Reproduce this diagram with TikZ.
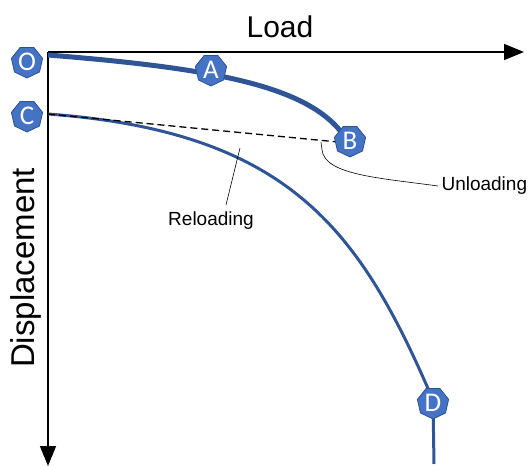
\documentclass[tikz,border=0pt]{standalone}
\usepackage{fontspec}
\setmainfont{Liberation Sans}
\newfontfamily\markfont{Carlito}
\usetikzlibrary{shapes.geometric,arrows.meta}
\definecolor{markfill}{HTML}{4472C4}
\definecolor{markline}{HTML}{2F528F}
\definecolor{curve}{HTML}{2F5597}
\tikzset{
  pt/.style={regular polygon, regular polygon sides=7, shape border rotate=180,
    minimum size=32pt, inner sep=0pt, fill=markfill, draw=markline, line width=0.8pt,
    text=white, font=\markfont\fontsize{27}{27}\selectfont},
  axis/.style={line width=1.6pt, -{Triangle[length=20pt,width=16pt]}},
  lbl/.style={font=\fontsize{19}{19}\selectfont},
  leader/.style={line width=0.6pt},
}
\begin{document}
\begin{tikzpicture}[x=1pt,y=-1pt]
\useasboundingbox (0,0) rectangle (531,466);
% axes
\coordinate (orig) at (48,52);
\coordinate (xend) at (524,52);
\coordinate (yend) at (48,466);
\draw[axis] (orig) -- (xend);
\draw[axis] (orig) -- (yend);
\node[font=\fontsize{30}{30}\selectfont] (load) at (280,27) {Load};
\node[font=\fontsize{33}{33}\selectfont, rotate=90] (disp) at (25.5,268) {Displacement};
% loading branch O-A-B
\coordinate (o0) at (48,55);
\coordinate (b0) at (342,133);
\draw[curve, line width=5pt] (o0) .. controls (210,68) and (305,85) .. (b0);
% reloading branch C-D, then the dashed unloading line on top
\coordinate (c0) at (48,114);
\coordinate (bd) at (338,142);
\coordinate (d0) at (433,400);
\coordinate (dend) at (434,464);
\draw[curve, line width=3pt] (c0) .. controls (290,132) and (360,230) .. (d0) -- (dend);
\draw[dashed, line width=1.3pt, dash pattern=on 7pt off 4pt] (c0) -- (bd);
% markers
\node[pt] (O) at (27,62) {O};
\node[pt] (C) at (27,116) {C};
\node[pt] (A) at (211,70) {A};
\node[pt] (B) at (350,141) {B};
\node[pt] (D) at (433,403) {D};
% callouts
\node[lbl, anchor=west] (unl) at (438,186) {Unloading};
\coordinate (ua) at (321,142);
\draw[leader] (ua) -- (322,150) .. controls (325,175) and (380,178) .. (unl.west);
\node[lbl] (rel) at (211,221) {Reloading};
\coordinate (ra) at (240,148);
\draw[leader] (ra) -- (226,205);
\end{tikzpicture}
\end{document}
